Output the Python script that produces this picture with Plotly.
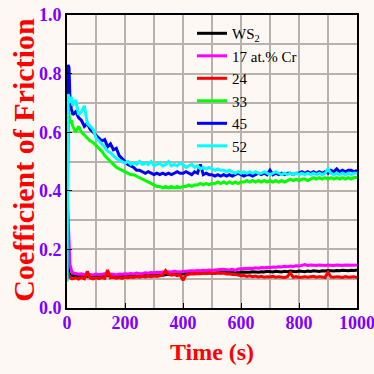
import plotly.graph_objects as go

# time axis (s)
time_s = [0, 4, 7, 10, 15] + list(range(20, 1001, 10))

ws2 = [0.27, 0.15, 0.12, 0.115, 0.11,
       0.11, 0.112, 0.108, 0.11, 0.112, 0.108, 0.11, 0.109, 0.111, 0.108,
       0.11, 0.109, 0.111, 0.108, 0.11, 0.109, 0.111, 0.11, 0.108, 0.11,
       0.109, 0.111, 0.11, 0.108, 0.11, 0.112, 0.109, 0.111, 0.11, 0.112,
       0.113, 0.112, 0.114, 0.115, 0.114, 0.116, 0.117, 0.116, 0.118, 0.117,
       0.118, 0.119, 0.118, 0.12, 0.119, 0.12, 0.121, 0.12, 0.119, 0.12,
       0.121, 0.12, 0.121, 0.122, 0.121, 0.12, 0.122, 0.121, 0.123, 0.122,
       0.123, 0.122, 0.124, 0.123, 0.122, 0.124, 0.123, 0.125, 0.124, 0.123,
       0.125, 0.124, 0.123, 0.125, 0.124, 0.126, 0.125, 0.124, 0.126, 0.125,
       0.124, 0.126, 0.125, 0.127, 0.126, 0.125, 0.127, 0.126, 0.128, 0.127,
       0.126, 0.128, 0.127, 0.129, 0.128, 0.127, 0.129, 0.128, 0.13]

cr17 = [0.41, 0.30, 0.20, 0.15, 0.13,
        0.12, 0.118, 0.115, 0.117, 0.114, 0.116, 0.115, 0.113, 0.116, 0.114,
        0.115, 0.117, 0.114, 0.116, 0.115, 0.113, 0.116, 0.115, 0.117, 0.116,
        0.118, 0.116, 0.119, 0.117, 0.118, 0.12, 0.119, 0.121, 0.12, 0.122,
        0.121, 0.123, 0.122, 0.124, 0.123, 0.125, 0.124, 0.123, 0.125, 0.126,
        0.125, 0.127, 0.126, 0.128, 0.127, 0.129, 0.128, 0.13, 0.129, 0.13,
        0.131, 0.13, 0.132, 0.131, 0.13, 0.132, 0.128, 0.133, 0.134, 0.135,
        0.134, 0.136, 0.135, 0.137, 0.136, 0.138, 0.137, 0.139, 0.138, 0.14,
        0.139, 0.141, 0.14, 0.142, 0.141, 0.143, 0.142, 0.144, 0.143, 0.146,
        0.148, 0.145, 0.147, 0.146, 0.145, 0.147, 0.146, 0.145, 0.147, 0.146,
        0.145, 0.147, 0.146, 0.145, 0.147, 0.146, 0.145, 0.146, 0.147]

cr24 = [0.11, 0.12, 0.11, 0.105, 0.10,
        0.10, 0.103, 0.099, 0.104, 0.10, 0.125, 0.102, 0.099, 0.103, 0.10,
        0.104, 0.101, 0.13, 0.103, 0.105, 0.102, 0.104, 0.101, 0.105, 0.103,
        0.106, 0.104, 0.107, 0.105, 0.108, 0.106, 0.109, 0.107, 0.11, 0.108,
        0.11, 0.113, 0.128, 0.115, 0.112, 0.114, 0.11, 0.113, 0.095, 0.112,
        0.115, 0.117, 0.116, 0.118, 0.117, 0.119, 0.118, 0.12, 0.119, 0.118,
        0.12, 0.118, 0.119, 0.116, 0.117, 0.114, 0.115, 0.112, 0.11, 0.111,
        0.108, 0.11, 0.107, 0.109, 0.106, 0.108, 0.105, 0.107, 0.106, 0.108,
        0.105, 0.107, 0.106, 0.104, 0.107, 0.12, 0.105, 0.107, 0.104, 0.106,
        0.107, 0.105, 0.106, 0.108, 0.105, 0.107, 0.106, 0.104, 0.122, 0.106,
        0.105, 0.107, 0.106, 0.104, 0.107, 0.105, 0.106, 0.107, 0.104]

cr33 = [0.10, 0.68, 0.66, 0.63, 0.64,
        0.62, 0.60, 0.62, 0.60, 0.59, 0.58, 0.57, 0.565, 0.555, 0.545,
        0.535, 0.52, 0.51, 0.50, 0.49, 0.48, 0.475, 0.47, 0.465, 0.46,
        0.455, 0.455, 0.45, 0.445, 0.44, 0.435, 0.43, 0.425, 0.42, 0.415,
        0.415, 0.41, 0.415, 0.41, 0.415, 0.41, 0.415, 0.41, 0.415, 0.415,
        0.42, 0.415, 0.42, 0.42, 0.425, 0.42, 0.425, 0.42, 0.425, 0.425,
        0.43, 0.425, 0.43, 0.425, 0.43, 0.425, 0.43, 0.425, 0.43, 0.43,
        0.435, 0.43, 0.435, 0.43, 0.435, 0.43, 0.435, 0.43, 0.435, 0.43,
        0.435, 0.43, 0.435, 0.43, 0.435, 0.44, 0.435, 0.44, 0.435, 0.44,
        0.44, 0.435, 0.44, 0.445, 0.44, 0.445, 0.44, 0.445, 0.44, 0.445,
        0.44, 0.445, 0.44, 0.445, 0.44, 0.445, 0.44, 0.445, 0.445]

cr45 = [0.10, 0.83, 0.82, 0.72, 0.68,
        0.66, 0.67, 0.65, 0.64, 0.62, 0.63, 0.61, 0.60, 0.59, 0.58,
        0.57, 0.575, 0.55, 0.56, 0.54, 0.545, 0.52, 0.51, 0.50, 0.49,
        0.485, 0.48, 0.47, 0.47, 0.465, 0.46, 0.465, 0.46, 0.455, 0.46,
        0.455, 0.46, 0.455, 0.46, 0.455, 0.46, 0.465, 0.46, 0.46, 0.465,
        0.46, 0.455, 0.465, 0.46, 0.49, 0.455, 0.46, 0.455, 0.455, 0.45,
        0.455, 0.45, 0.455, 0.45, 0.455, 0.45, 0.455, 0.46, 0.455, 0.45,
        0.455, 0.455, 0.45, 0.455, 0.46, 0.455, 0.46, 0.455, 0.47, 0.455,
        0.46, 0.455, 0.46, 0.455, 0.46, 0.46, 0.455, 0.46, 0.46, 0.465,
        0.46, 0.465, 0.46, 0.465, 0.46, 0.465, 0.46, 0.465, 0.46, 0.47,
        0.465, 0.475, 0.465, 0.47, 0.465, 0.47, 0.47, 0.465, 0.47]

cr52 = [0.09, 0.73, 0.72, 0.70, 0.72,
        0.69, 0.71, 0.66, 0.67, 0.69, 0.63, 0.62, 0.61, 0.58, 0.57,
        0.56, 0.55, 0.535, 0.53, 0.52, 0.51, 0.505, 0.50, 0.495, 0.50,
        0.49, 0.495, 0.49, 0.50, 0.49, 0.495, 0.49, 0.50, 0.485, 0.49,
        0.495, 0.485, 0.49, 0.50, 0.485, 0.49, 0.485, 0.495, 0.49, 0.48,
        0.485, 0.49, 0.48, 0.485, 0.475, 0.48, 0.475, 0.48, 0.475, 0.47,
        0.475, 0.47, 0.47, 0.465, 0.47, 0.465, 0.46, 0.465, 0.46, 0.465,
        0.46, 0.465, 0.46, 0.465, 0.46, 0.46, 0.465, 0.46, 0.455, 0.46,
        0.465, 0.46, 0.455, 0.46, 0.455, 0.46, 0.455, 0.46, 0.455, 0.46,
        0.455, 0.46, 0.455, 0.46, 0.455, 0.46, 0.455, 0.46, 0.475, 0.46,
        0.455, 0.46, 0.455, 0.46, 0.455, 0.46, 0.455, 0.46, 0.46]

series_names = ["WS<sub>2</sub>", "17 at.% Cr", "24", "33", "45", "52"]
series_values = [ws2, cr17, cr24, cr33, cr45, cr52]
series_colors = ["#000000", "#FF00FF", "#FF0000", "#00FF00", "#0000FF", "#00FFFF"]

x_ticks = [0, 200, 400, 600, 800, 1000]
y_ticks = [0.0, 0.2, 0.4, 0.6, 0.8, 1.0]

SERIF = "Liberation Serif"

fig = go.Figure()
for name, vals, col in zip(series_names, series_values, series_colors):
    fig.add_trace(go.Scatter(x=time_s[:len(vals)], y=vals, mode="lines", name=name,
                             line=dict(color=col, width=3)))

bg = "#FDF8F3"
grid = "#B8B2AC"
fig.update_layout(
    width=374, height=374,
    margin=dict(l=67, r=17, t=15, b=66),
    paper_bgcolor=bg, plot_bgcolor=bg,
    font=dict(family=SERIF),
    showlegend=True,
    legend=dict(x=0.431, y=0.993, xanchor="left", yanchor="top",
                bgcolor="rgba(0,0,0,0)", font=dict(size=15, color="black", family=SERIF),
                tracegroupgap=0),
    annotations=[dict(text="Coefficient of Friction", textangle=-90,
                      xref="paper", yref="paper", x=-0.153, y=0.505,
                      xanchor="center", yanchor="middle", showarrow=False,
                      font=dict(size=30, color="#FF0000", family=SERIF, weight="bold"))],
)
fig.update_xaxes(
    range=[0, 1000], tickvals=x_ticks, ticktext=[str(v) for v in x_ticks],
    showgrid=True, gridcolor=grid, gridwidth=1.5,
    minor=dict(dtick=100, tick0=0, showgrid=True, gridcolor=grid, gridwidth=1.5),
    showline=True, linecolor="black", linewidth=2, mirror=True,
    ticks="inside", ticklen=5, tickcolor="black",
    ticklabeloverflow="allow", automargin=False, ticklabelstandoff=-3,
    tickfont=dict(size=18, color="#7F00FF", family=SERIF, weight="bold"),
    title=dict(text="Time (s)", font=dict(size=24, color="#FF0000", family=SERIF, weight="bold"), standoff=12),
    zeroline=False,
)
fig.update_yaxes(
    range=[0, 1.0], tickvals=y_ticks, ticktext=["%.1f" % v for v in y_ticks],
    showgrid=True, gridcolor=grid, gridwidth=1.5,
    minor=dict(dtick=0.1, tick0=0, showgrid=True, gridcolor=grid, gridwidth=1.5),
    showline=True, linecolor="black", linewidth=2, mirror=True,
    ticks="inside", ticklen=5, tickcolor="black",
    ticklabeloverflow="allow", automargin=False,
    tickfont=dict(size=18, color="#7F00FF", family=SERIF, weight="bold"),
    zeroline=False,
)

fig.write_html(
    "out.html",
    config={"displayModeBar": False},
    post_script="document.body.style.margin='0';document.body.style.background='#FDF8F3';",
)
